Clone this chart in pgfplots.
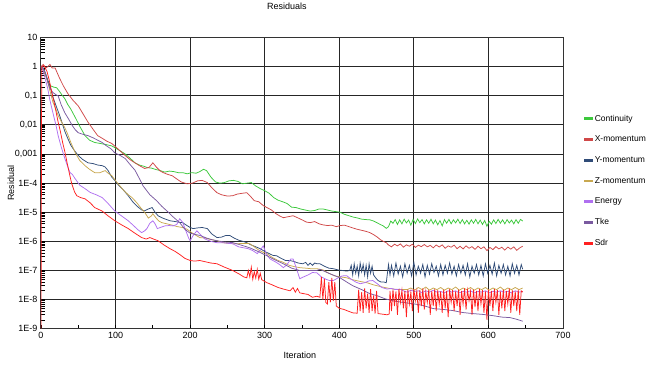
\documentclass[border=0pt]{standalone}
\usepackage{pgfplots}
\pgfplotsset{compat=1.18}
\usepackage{fontspec}
\setmainfont{Liberation Sans}
\definecolor{cCont}{HTML}{3CC83C}
\definecolor{cXm}{HTML}{D04848}
\definecolor{cYm}{HTML}{304C78}
\definecolor{cZm}{HTML}{C8A850}
\definecolor{cEn}{HTML}{B070F0}
\definecolor{cTke}{HTML}{7A5AA0}
\definecolor{cSdr}{HTML}{FF2020}
\begin{document}
\begin{tikzpicture}
\begin{semilogyaxis}[
  at={(0pt,0pt)}, anchor=south west,
  scale only axis, width=522pt, height=291pt,
  xmin=0, xmax=700, ymin=1e-9, ymax=10,
  xtick={0,100,...,700},
  minor xtick={50,150,...,650},
  ytick={1e-9,1e-8,1e-7,1e-6,1e-5,1e-4,1e-3,1e-2,1e-1,1,10},
  extra y ticks={2e-9,3e-9,4e-9,5e-9,6e-9,7e-9,8e-9,9e-9,
    2e-8,3e-8,4e-8,5e-8,6e-8,7e-8,8e-8,9e-8,
    2e-7,3e-7,4e-7,5e-7,6e-7,7e-7,8e-7,9e-7,
    2e-6,3e-6,4e-6,5e-6,6e-6,7e-6,8e-6,9e-6,
    2e-5,3e-5,4e-5,5e-5,6e-5,7e-5,8e-5,9e-5,
    2e-4,3e-4,4e-4,5e-4,6e-4,7e-4,8e-4,9e-4,
    2e-3,3e-3,4e-3,5e-3,6e-3,7e-3,8e-3,9e-3,
    2e-2,3e-2,4e-2,5e-2,6e-2,7e-2,8e-2,9e-2,
    0.2,0.3,0.4,0.5,0.6,0.7,0.8,0.9,
    2,3,4,5,6,7,8,9},
  extra y tick labels={},
  extra y tick style={grid=none, major tick length=3pt},
  yticklabels={1E-9,1E-8,1E-7,1E-6,1E-5,1E-4,{0,001},{0,01},{0,1},1,10},
  /pgf/number format/assume math mode=true,
  tick label style={font=\fontsize{9}{10}\selectfont},
  xtick pos=left, ytick pos=left, tick align=inside,
  major tick length=4pt, minor tick length=4pt,
  every tick/.style={black, line width=0.8pt},
  grid=major,
  major grid style={black!85, line width=1pt},
  axis line style={black!80, line width=1pt},
  title={Residuals},
  title style={at={(0.471,1.086)}, anchor=center, font=\fontsize{9}{10}\selectfont},
  xlabel={Iteration},
  xlabel style={at={(0.496,-0.093)}, anchor=center, font=\fontsize{9}{10}\selectfont},
  ylabel={Residual},
  ylabel style={at={(-0.0575,0.5)}, anchor=center, font=\fontsize{9}{10}\selectfont},
  legend style={draw=none, fill=none, at={(1.040,0.742)}, anchor=north west,
    font=\fontsize{8.5}{9}\selectfont, row sep=9.3pt, inner sep=0pt},
  legend cell align=left,
  legend image code/.code={\fill[#1] (0pt,-0.9pt) rectangle (8pt,0.9pt);},
  every axis plot/.append style={line width=0.75pt, mark=none},
]
% Continuity
\addplot[cCont] coordinates {
(0,1) (3,0.9) (6,0.55) (9,0.33) (13,0.22) (17,0.2) (21,0.19) (25,0.14) (29,0.1) (32,0.08) (36,0.05) (40,0.035) (46,0.018) (52,0.009) (59,0.0043) (65,0.003) (72,0.0025) (80,0.0023) (88,0.0021) (95,0.0019) (100,0.0016) (106,0.0013) (113,0.001) (120,7e-4) (126,5e-4) (132,4.2e-4) (138,3.8e-4) (143,3.4e-4) (148,3.3e-4) (153,3e-4) (160,2.7e-4) (166,2.4e-4) (172,2.6e-4) (178,2.5e-4) (184,2.3e-4) (190,2.3e-4) (196,2.1e-4) (202,2.3e-4) (208,2.2e-4) (213,2.5e-4) (218,3e-4) (222,2.7e-4) (228,1.6e-4) (234,1.1e-4) (240,1e-4) (246,1.05e-4) (252,1.2e-4) (258,1.25e-4) (264,1.15e-4) (270,9.5e-5) (276,1e-4) (282,1.05e-4) (288,8e-5) (294,6.5e-5) (300,5.5e-5) (306,4.5e-5) (312,3.2e-5) (318,2.6e-5) (324,2.3e-5) (330,2e-5) (336,1.5e-5) (342,1.45e-5) (348,1.3e-5) (354,1.2e-5) (361,1.1e-5) (367,1.15e-5) (373,1.3e-5) (378,1.3e-5) (384,1.2e-5) (390,1.1e-5) (396,1.05e-5) (401,1e-5) (407,8.5e-6) (413,7.6e-6) (419,6.8e-6) (424,6.4e-6) (430,5.8e-6) (436,5.6e-6) (441,5.5e-6) (446,5e-6) (451,4.3e-6) (455,3.8e-6) (459,3.4e-6) (463,2.8e-6) (466,3.2e-6) (469,5e-6)
(472,4.2e-6) (475,5.6e-6) (478,3.8e-6) (481,5.5e-6) (484,4.0e-6) (487,5.8e-6) (490,4.3e-6) (493,5.4e-6) (496,3.6e-6) (499,5.7e-6) (502,4.1e-6) (505,5.9e-6) (508,4.4e-6) (511,5.6e-6) (514,4.0e-6) (517,5.5e-6) (520,4.2e-6) (523,5.8e-6) (526,4.0e-6) (529,5.4e-6) (532,3.7e-6) (535,5.2e-6) (538,3.4e-6) (541,5.6e-6) (544,4.2e-6) (547,5.7e-6) (550,4.0e-6) (553,5.5e-6) (556,4.3e-6) (559,5.8e-6) (562,4.1e-6) (565,5.6e-6) (568,4.0e-6) (571,5.3e-6) (574,3.9e-6) (577,5.5e-6) (580,4.2e-6) (583,5.7e-6) (586,4.0e-6) (589,5.4e-6) (592,3.8e-6) (595,5.2e-6) (598,3.3e-6) (601,4.9e-6) (604,3.9e-6) (607,5.5e-6) (610,4.1e-6) (613,5.7e-6) (616,4.2e-6) (619,5.5e-6) (622,4.0e-6) (625,5.6e-6) (628,4.3e-6) (631,5.4e-6) (634,4.0e-6) (637,5.6e-6) (640,4.2e-6) (643,5.7e-6) (646,5.0e-6)
};
\addlegendentry{Continuity}
% X-momentum
\addplot[cXm] coordinates {
(0,1) (3,1.2) (6,0.9) (9,1.0) (12,1.2) (15,0.9) (19,0.9) (22,0.6) (25,0.4) (30,0.22) (36,0.12) (43,0.07) (50,0.045) (56,0.025) (63,0.0125) (70,0.007) (76,0.0043) (82,0.0035) (88,0.0028) (95,0.0023) (102,0.0016) (109,0.0011) (115,8e-4) (121,6e-4) (126,5e-4) (132,4e-4) (139,3.2e-4) (145,3.5e-4) (150,5e-4) (155,3.5e-4) (160,2.6e-4) (164,2.3e-4) (170,2e-4) (176,1.8e-4) (182,1.4e-4) (188,1.1e-4) (196,9.5e-5) (203,1e-4) (210,1.2e-4) (216,1.25e-4) (223,1.05e-4) (229,7e-5) (236,4.7e-5) (242,4e-5) (250,3.6e-5) (257,3.7e-5) (263,4.2e-5) (270,4.5e-5) (276,4.7e-5) (281,3.5e-5) (286,2.5e-5) (292,2.3e-5) (298,1.7e-5) (303,1.45e-5) (309,1.2e-5) (315,9e-6) (320,7.5e-6) (325,6.5e-6) (331,7e-6) (338,7.6e-6) (344,6.5e-6) (350,5.5e-6) (356,4.6e-6) (361,4.4e-6) (367,4.8e-6) (373,4.0e-6) (378,3.7e-6) (384,3.5e-6) (390,3.6e-6) (396,3.2e-6) (401,3.5e-6) (407,3.6e-6) (413,3.2e-6) (418,2.9e-6) (424,2.6e-6) (430,2.4e-6) (436,2.2e-6) (441,2.0e-6) (446,1.7e-6) (451,1.4e-6) (455,1.15e-6) (459,1.0e-6) (463,9e-7)
(466,7.5e-7) (470,6.5e-7) (474,8.0e-7) (478,7.0e-7) (482,8.2e-7) (486,6.3e-7) (490,7.6e-7) (494,6.8e-7) (498,8.0e-7) (502,6.2e-7) (506,7.4e-7) (510,6.6e-7) (514,7.8e-7) (518,6.5e-7) (522,7.3e-7) (526,6.0e-7) (530,7.5e-7) (534,6.4e-7) (538,7.6e-7) (542,5.8e-7) (546,7.0e-7) (550,6.3e-7) (554,7.4e-7) (558,5.6e-7) (562,6.8e-7) (566,5.5e-7) (570,7.0e-7) (574,5.8e-7) (578,6.6e-7) (582,5.3e-7) (586,6.8e-7) (590,5.6e-7) (594,6.5e-7) (598,4.8e-7) (602,6.2e-7) (606,5.2e-7) (610,6.6e-7) (614,5.5e-7) (618,6.3e-7) (622,5.0e-7) (626,6.4e-7) (630,5.4e-7) (634,6.5e-7) (638,4.9e-7) (642,6.0e-7) (646,6.8e-7)
};
\addlegendentry{X-momentum}
% Y-momentum
\addplot[cYm] coordinates {
(0,1) (3,0.9) (6,0.6) (9,0.35) (12,0.22) (16,0.09) (21,0.04) (24,0.025) (28,0.0125) (32,0.006) (36,0.0034) (40,0.002) (45,0.0013) (50,8.9e-4) (56,6.5e-4) (63,5e-4) (70,4.7e-4) (76,4.2e-4) (82,4e-4) (86,3.6e-4) (90,2.7e-4) (95,1.6e-4) (99,1.25e-4) (104,8.5e-5) (110,6e-5) (117,3.7e-5) (123,2.3e-5) (129,1.6e-5) (135,1.2e-5) (139,1.12e-5) (144,1.3e-5) (149,1.45e-5) (153,1.0e-5) (157,7.6e-6) (162,6.5e-6) (167,5.8e-6) (173,5.1e-6) (180,4.8e-6) (186,4.5e-6) (190,4.4e-6) (195,3.6e-6) (200,3.0e-6) (204,2.75e-6) (210,2.9e-6) (216,3.0e-6) (223,2.75e-6) (229,1.8e-6) (236,1.35e-6) (242,1.4e-6) (248,1.6e-6) (253,1.6e-6) (259,1.3e-6) (265,1.1e-6) (271,1.0e-6) (276,9e-7) (282,7.5e-7) (288,6.5e-7) (294,5.6e-7) (300,4.5e-7) (306,3.8e-7) (311,3.3e-7) (316,3.2e-7) (322,2.6e-7) (328,2.2e-7) (334,2.2e-7) (340,2.0e-7) (345,1.8e-7) (351,1.7e-7) (355,1.9e-7) (358,1.5e-7) (361,1.8e-7) (364,1.5e-7) (367,1.8e-7) (370,1.7e-7) (374,1.7e-7) (380,1.4e-7) (386,1.2e-7) (392,1.15e-7) (398,1.05e-7) (404,1.0e-7) (410,9.5e-8) (414,1.0e-7)
(416,1.5e-7) (418,7e-8) (420,1.7e-7) (422,8e-8) (424,1.4e-7) (426,6.5e-8) (428,1.8e-7) (430,9e-8) (432,1.6e-7) (434,7e-8) (436,1.5e-7) (438,6e-8) (440,1.7e-7) (442,8e-8) (444,1.4e-7) (446,7e-8) (449,5.5e-8) (452,4.5e-8) (456,4e-8) (460,4e-8) (463,3.8e-8) (466,1.6e-7) (468,7e-8)
(470,1.5e-7) (473,6.5e-8) (476,1.8e-7) (479,7.5e-8) (482,1.4e-7) (485,6e-8) (488,1.7e-7) (491,8e-8) (494,1.5e-7) (497,6.5e-8) (500,1.9e-7) (503,7e-8) (506,1.4e-7) (509,8e-8) (512,1.6e-7) (515,6e-8) (518,1.5e-7) (521,7.5e-8) (524,1.7e-7) (527,8.5e-8) (530,1.4e-7) (533,6.5e-8) (536,1.6e-7) (539,7e-8) (542,1.5e-7) (545,8e-8) (548,1.8e-7) (551,7.5e-8) (554,1.4e-7) (557,6.5e-8) (560,1.6e-7) (563,8e-8) (566,1.5e-7) (569,7e-8) (572,1.7e-7) (575,6e-8) (578,1.4e-7) (581,8e-8) (584,1.6e-7) (587,7e-8) (590,1.5e-7) (593,6.5e-8) (596,1.7e-7) (599,8e-8) (602,1.5e-7) (605,7.5e-8) (608,1.8e-7) (611,6.5e-8) (614,1.5e-7) (617,8e-8) (620,1.6e-7) (623,7e-8) (626,1.4e-7) (629,6.5e-8) (632,1.7e-7) (635,8e-8) (638,1.5e-7) (641,7e-8) (644,1.6e-7) (646,1.1e-7)
};
\addlegendentry{Y-momentum}
% Z-momentum
\addplot[cZm] coordinates {
(0,1) (3,0.8) (6,0.5) (9,0.3) (12,0.15) (16,0.06) (20,0.035) (23,0.021) (28,0.012) (32,0.008) (35,0.0054) (40,0.0025) (46,0.0011) (52,6e-4) (59,4e-4) (65,3e-4) (72,2.3e-4) (79,2.3e-4) (86,2.7e-4) (90,2.2e-4) (95,1.8e-4) (102,1.05e-4) (110,6e-5) (117,4e-5) (122,3.2e-5) (128,2.2e-5) (134,1.4e-5) (139,1e-5) (144,6.3e-6) (148,7.5e-6) (150,8.9e-6) (154,6.5e-6) (158,5e-6) (162,4.4e-6) (169,4e-6) (176,3.6e-6) (183,3.2e-6) (190,3.0e-6) (196,2.6e-6) (202,2.0e-6) (208,1.6e-6) (213,1.35e-6) (220,1.3e-6) (228,1.15e-6) (236,1.05e-6) (244,9e-7) (252,8.5e-7) (258,8.3e-7) (263,8.3e-7) (270,8.5e-7) (275,8.5e-7) (280,8.3e-7) (286,6.5e-7) (292,5e-7) (298,4.2e-7) (303,3.8e-7) (310,2.8e-7) (318,2.2e-7) (325,1.9e-7) (333,1.5e-7) (340,1.35e-7) (347,1.25e-7) (355,1.2e-7) (362,1.15e-7) (370,1.15e-7) (378,1.05e-7) (386,8e-8) (394,6.5e-8) (402,6e-8) (410,5.6e-8) (418,4.8e-8) (428,4.2e-8) (437,3.8e-8) (446,3.2e-8) (455,2.8e-8) (464,2.5e-8) (472,2.3e-8) (481,2.2e-8) (491,2.2e-8)
(496,2.5e-8) (501,2.1e-8) (506,2.6e-8) (511,2.2e-8) (516,2.7e-8) (521,2.1e-8) (526,2.5e-8) (531,2.2e-8) (536,2.6e-8) (541,2.1e-8) (546,2.5e-8) (551,2.2e-8) (556,2.7e-8) (561,2.1e-8) (566,2.5e-8) (571,2.2e-8) (576,2.6e-8) (581,2.1e-8) (586,2.5e-8) (591,2.2e-8) (596,2.6e-8) (601,2.1e-8) (606,2.5e-8) (611,2.2e-8) (616,2.7e-8) (621,2.1e-8) (626,2.5e-8) (631,2.2e-8) (636,2.6e-8) (641,2.2e-8) (646,2.5e-8)
};
\addlegendentry{Z-momentum}
% Energy
\addplot[cEn] coordinates {
(0,1) (3,0.7) (6,0.35) (9,0.18) (12,0.07) (16,0.026) (20,0.01) (23,0.0043) (27,0.0018) (32,7e-4) (36,3.6e-4) (39,2.3e-4) (42,2e-4) (46,1.4e-4) (52,8.5e-5) (59,6.5e-5) (66,4.8e-5) (74,4e-5) (82,3.2e-5) (90,2e-5) (99,1.1e-5) (108,7.5e-6) (117,5.1e-6) (124,3.5e-6) (130,2.5e-6) (135,2.0e-6) (139,2.3e-6) (142,2.75e-6) (146,4.2e-6) (150,5.1e-6) (153,4e-6) (156,2.75e-6) (160,3.0e-6) (166,3.4e-6) (172,3.5e-6) (177,3.4e-6) (182,3.8e-6) (186,6.0e-6) (190,4.5e-6) (194,2.4e-6) (198,1.3e-6) (200,1.05e-6) (204,1.6e-6) (209,2.3e-6) (214,1.7e-6) (220,1.2e-6) (228,1.0e-6) (236,9e-7) (244,9e-7) (250,8.6e-7) (257,8.3e-7) (265,6.5e-7) (272,6e-7) (278,5.6e-7) (284,4.8e-7) (290,3.8e-7) (294,5e-7) (298,7e-7) (302,3.8e-7) (307,2.5e-7) (314,2e-7) (320,1.6e-7) (325,1.25e-7) (330,1.6e-7) (335,2.5e-7) (338,2.5e-7) (342,1.3e-7) (347,5.2e-8) (352,6e-8) (358,7e-8) (364,8.5e-8) (370,8.3e-8) (376,6e-8) (382,5e-8) (387,4.5e-8) (392,4.5e-8) (398,5.5e-8) (404,6.5e-8) (410,6.6e-8) (416,5e-8) (422,4e-8) (428,3.5e-8) (434,3.8e-8) (440,4.4e-8) (445,4.5e-8) (451,3.5e-8) (457,2.6e-8) (464,2.3e-8) (470,2.4e-8) (476,2.2e-8) (481,2.3e-8)
(486,2.0e-8) (491,1.8e-8) (496,2.1e-8) (501,1.9e-8) (506,2.0e-8) (511,1.7e-8) (516,2.0e-8) (521,1.8e-8) (526,2.1e-8) (531,1.8e-8) (536,1.9e-8) (541,1.7e-8) (546,2.0e-8) (551,1.8e-8) (556,2.0e-8) (561,1.7e-8) (566,1.9e-8) (571,1.8e-8) (576,2.0e-8) (581,1.7e-8) (586,1.9e-8) (591,1.8e-8) (596,2.0e-8) (601,1.7e-8) (606,1.9e-8) (611,1.8e-8) (616,2.0e-8) (621,1.8e-8) (626,1.9e-8) (631,1.7e-8) (636,2.0e-8) (641,1.8e-8) (646,1.9e-8)
};
\addlegendentry{Energy}
% Tke
\addplot[cTke] coordinates {
(0,1) (3,0.9) (6,0.6) (9,0.3) (12,0.18) (16,0.13) (20,0.11) (23,0.1) (27,0.05) (32,0.026) (37,0.016) (42,0.0095) (46,0.0068) (50,0.0054) (56,0.0048) (63,0.0043) (70,0.0036) (76,0.003) (82,0.0025) (88,0.0019) (94,0.0015) (99,0.0011) (106,9e-4) (113,7e-4) (119,4.5e-4) (126,2.8e-4) (131,1.6e-4) (137,8e-5) (146,4e-5) (155,2.5e-5) (162,1.6e-5) (169,1.1e-5) (177,7e-6) (186,4.4e-6) (193,2.6e-6) (200,1.9e-6) (206,1.75e-6) (213,1.6e-6) (222,1.3e-6) (229,1.15e-6) (236,1.05e-6) (246,9.5e-7) (257,9.1e-7) (268,7.5e-7) (280,6e-7) (291,4.5e-7) (303,3.2e-7) (314,2.3e-7) (325,1.7e-7) (336,1.2e-7) (347,1.0e-7) (358,1.0e-7) (370,1.0e-7) (374,1.1e-7) (386,8e-8) (401,5.6e-8) (410,4e-8) (418,3e-8) (430,2.2e-8) (441,1.6e-8) (451,1.35e-8) (462,1.05e-8) (472,9.1e-9) (485,8e-9) (499,7.2e-9) (512,6.3e-9) (526,4.9e-9) (539,4.6e-9) (552,4.2e-9) (565,3.6e-9) (579,3.3e-9) (592,3.1e-9) (606,2.8e-9) (618,2.5e-9) (629,2.4e-9) (638,2.1e-9) (646,1.8e-9)
};
\addlegendentry{Tke}
% Sdr
\addplot[cSdr] coordinates {
(0,1e-9) (1,1) (4,1.1) (8,0.7) (11,0.35) (14,0.15) (17,0.07) (20,0.03) (23,0.0125) (26,0.006) (29,0.0025) (32,0.0012) (35,5e-4) (38,2.2e-4) (41,1e-4) (45,5e-5) (48,3.7e-5) (53,3.2e-5) (59,2.9e-5) (66,2.1e-5) (72,1.45e-5) (82,1.1e-5) (90,7.5e-6) (99,5.1e-6) (108,3.7e-6) (117,2.75e-6) (126,1.9e-6) (135,1.35e-6) (141,1.2e-6) (146,1.35e-6) (151,1.2e-6) (157,1.05e-6) (165,7.5e-7) (173,5.6e-7) (180,4.5e-7) (187,3.4e-7) (193,2.6e-7) (200,2.2e-7) (206,2.1e-7) (213,2.2e-7) (220,2.0e-7) (228,1.8e-7) (236,1.7e-7) (246,1.3e-7) (257,1.0e-7) (266,7.5e-8) (272,6e-8) (276,5.6e-8) (278,1e-7) (280,6e-8) (282,1.3e-7) (284,5e-8) (286,9e-8) (288,5.5e-8) (290,1.1e-7) (292,5e-8) (294,8e-8) (296,4.8e-8) (298,4.5e-8) (303,3.8e-8) (310,3.2e-8) (318,2.6e-8) (325,2.3e-8) (334,2.0e-8) (338,2.6e-8) (341,1.8e-8) (344,2.4e-8) (347,1.7e-8) (352,1.6e-8) (358,1.5e-8) (364,1.2e-8) (370,1.3e-8) (374,1.2e-8) (376,6e-8) (378,1e-8) (380,5e-8) (382,8e-9) (384,7e-9) (386,4e-8) (388,8e-9) (390,5.6e-8) (392,9e-9) (394,4e-8) (396,6e-9) (400,5e-9) (406,4.6e-9) (412,4e-9) (418,3.5e-9) (424,3.4e-9) (426,2.2e-8) (428,4e-9) (430,1.8e-8) (432,3.5e-9) (434,2.4e-8) (436,5e-9) (438,1.6e-8) (440,3.5e-9) (442,2.3e-8) (444,4e-9) (446,1.4e-8) (448,3.3e-9) (450,2e-8) (452,3.3e-9) (456,3.2e-9) (460,3.1e-9) (464,3e-9) (467,3.2e-9)
(468,2.0e-8) (470,4e-9) (472,2.2e-8) (474,6e-9) (476,1.9e-8) (478,3e-9) (480,2.3e-8) (482,8e-9) (484,2.1e-8) (486,5e-9) (488,2.0e-8) (490,2.5e-9) (492,2.2e-8) (494,7e-9) (496,1.8e-8) (498,4e-9) (500,2.3e-8) (502,9e-9) (504,2.0e-8) (506,3.5e-9) (508,2.1e-8) (510,6e-9) (512,2.4e-8) (514,4.5e-9) (516,1.9e-8) (518,8e-9) (520,2.2e-8) (522,3e-9) (524,2.0e-8) (526,6e-9) (528,2.3e-8) (530,4e-9) (532,2.1e-8) (534,7e-9) (536,1.9e-8) (538,3.5e-9) (540,2.2e-8) (542,5e-9) (544,2.0e-8) (546,2.5e-9) (548,2.3e-8) (550,8e-9) (552,2.1e-8) (554,4e-9) (556,1.9e-8) (558,6e-9) (560,2.2e-8) (562,3e-9) (564,2.0e-8) (566,7e-9) (568,2.4e-8) (570,4.5e-9) (572,2.1e-8) (574,9e-9) (576,1.9e-8) (578,3e-9) (580,2.2e-8) (582,5.5e-9) (584,2.0e-8) (586,4e-9) (588,2.3e-8) (590,7e-9) (592,2.1e-8) (594,3.5e-9) (596,1.9e-8) (598,2e-9) (600,2.2e-8) (602,6e-9) (604,2.0e-8) (606,4e-9) (608,2.3e-8) (610,8e-9) (612,2.1e-8) (614,3e-9) (616,1.9e-8) (618,5e-9) (620,2.2e-8) (622,4e-9) (624,2.0e-8) (626,7e-9) (628,2.4e-8) (630,3.5e-9) (632,2.1e-8) (634,6e-9) (636,1.9e-8) (638,4e-9) (640,2.2e-8) (642,3e-9) (644,2.0e-8) (646,1.8e-8)
};
\addlegendentry{Sdr}
\end{semilogyaxis}
\path[use as bounding box] (-41pt,-37pt) rectangle (608pt,328pt);
\end{tikzpicture}
\end{document}
